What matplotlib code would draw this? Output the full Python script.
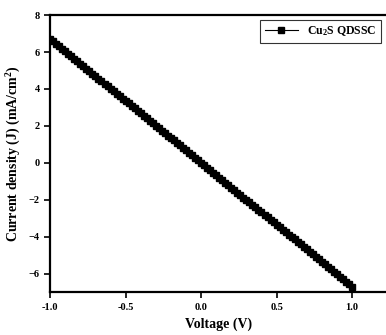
import matplotlib.pyplot as plt

plt.rcParams.update({
    "font.family": "Liberation Serif",
    "font.weight": "bold",
    "axes.labelweight": "bold",
    "mathtext.fontset": "custom",
    "mathtext.rm": "Liberation Serif:bold",
    "mathtext.it": "Liberation Serif:bold",
})

# J-V sweep of the Cu2S cell
voltage = [
    -1.00, -0.98, -0.96, -0.94, -0.92, -0.90, -0.88, -0.86, -0.84, -0.82,
    -0.80, -0.78, -0.76, -0.74, -0.72, -0.70, -0.68, -0.66, -0.64, -0.62,
    -0.60, -0.58, -0.56, -0.54, -0.52, -0.50, -0.48, -0.46, -0.44, -0.42,
    -0.40, -0.38, -0.36, -0.34, -0.32, -0.30, -0.28, -0.26, -0.24, -0.22,
    -0.20, -0.18, -0.16, -0.14, -0.12, -0.10, -0.08, -0.06, -0.04, -0.02,
    0.00, 0.02, 0.04, 0.06, 0.08, 0.10, 0.12, 0.14, 0.16, 0.18,
    0.20, 0.22, 0.24, 0.26, 0.28, 0.30, 0.32, 0.34, 0.36, 0.38,
    0.40, 0.42, 0.44, 0.46, 0.48, 0.50, 0.52, 0.54, 0.56, 0.58,
    0.60, 0.62, 0.64, 0.66, 0.68, 0.70, 0.72, 0.74, 0.76, 0.78,
    0.80, 0.82, 0.84, 0.86, 0.88, 0.90, 0.92, 0.94, 0.96, 0.98,
    1.00,
]
current = [
    6.70, 6.57, 6.43, 6.30, 6.16, 6.03, 5.90, 5.76, 5.63, 5.49,
    5.36, 5.23, 5.09, 4.96, 4.82, 4.69, 4.56, 4.42, 4.29, 4.15,
    4.02, 3.89, 3.75, 3.62, 3.48, 3.35, 3.22, 3.08, 2.95, 2.81,
    2.68, 2.55, 2.41, 2.28, 2.14, 2.01, 1.88, 1.74, 1.61, 1.47,
    1.34, 1.21, 1.07, 0.94, 0.80, 0.67, 0.54, 0.40, 0.27, 0.13,
    0.00, -0.13, -0.27, -0.40, -0.54, -0.67, -0.80, -0.94, -1.07, -1.21,
    -1.34, -1.47, -1.61, -1.74, -1.88, -2.01, -2.14, -2.28, -2.41, -2.55,
    -2.68, -2.81, -2.95, -3.08, -3.22, -3.35, -3.48, -3.62, -3.75, -3.89,
    -4.02, -4.15, -4.29, -4.42, -4.56, -4.69, -4.82, -4.96, -5.09, -5.23,
    -5.36, -5.49, -5.63, -5.76, -5.90, -6.03, -6.16, -6.30, -6.43, -6.57,
    -6.70,
]

xticks = [-1.0, -0.5, 0.0, 0.5, 1.0]
yticks = [-6, -4, -2, 0, 2, 4, 6, 8]

fig = plt.figure(figsize=(3.86, 3.35), dpi=100)
ax = fig.add_axes([0.13, 0.128, 0.87, 0.827])

ax.plot(voltage, current, color="black", linewidth=2.5, marker="s",
        markersize=4, label="Cu$_2$S QDSSC")

ax.set_xlim(-1.0, 1.225)
ax.set_ylim(-7, 8)
ax.set_xticks(xticks)
ax.set_yticks(yticks)
ax.set_xticklabels(["%.1f" % v for v in xticks])
ax.tick_params(direction="out", length=4, width=1.2, labelsize=7.5)

for side in ["left", "bottom", "top"]:
    ax.spines[side].set_linewidth(1.6)
ax.spines["right"].set_visible(False)

ax.set_xlabel("Voltage (V)", fontsize=10)
ax.set_ylabel("Current density (J) (mA/cm$^2$)", fontsize=10)

leg = ax.legend(loc="upper right", fontsize=8.5, fancybox=False,
                edgecolor="black", borderaxespad=0.4, handlelength=2.8)
leg.get_frame().set_linewidth(0.8)
# keep the legend line thin while the data trace stays heavy
leg.get_lines()[0].set_linewidth(0.8)

plt.savefig("out.png", dpi=100)
